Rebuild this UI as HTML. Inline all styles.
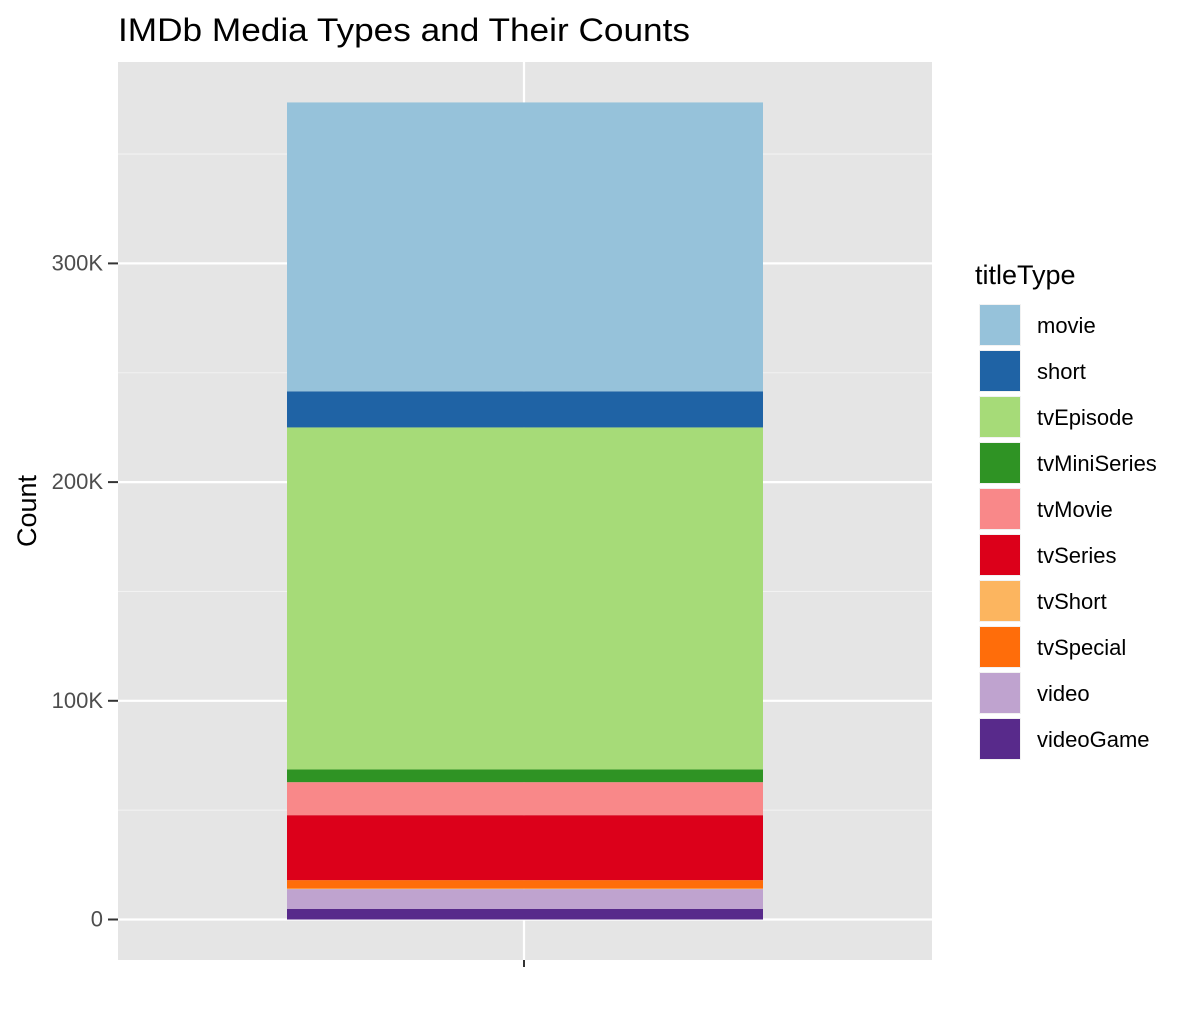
<!DOCTYPE html>
<html><head><meta charset="utf-8"><style>
body{margin:0;background:#fff;}
svg{display:block;font-family:"Liberation Sans",Arial,sans-serif;}
</style></head><body>
<svg id="c" width="1194" height="1010"></svg>
<script>
const categories=["videoGame","video","tvShort","tvSpecial","tvSeries","tvMovie","tvMiniSeries","tvEpisode","short","movie"];
const values=[4.8,9.1,0.3,3.8,29.7,15.1,5.8,156.4,16.5,132.1];
const colors={movie:"#96c2da",short:"#1f63a5",tvEpisode:"#a6db78",tvMiniSeries:"#2f9324",tvMovie:"#f98889",tvSeries:"#dc001a",tvShort:"#fcb55f",tvSpecial:"#ff6d0a",video:"#bfa3cf",videoGame:"#582a8b"};
const legendOrder=["movie","short","tvEpisode","tvMiniSeries","tvMovie","tvSeries","tvShort","tvSpecial","video","videoGame"];
const majorTicks=[0,100,200,300];
const tickLabels=["0","100K","200K","300K"];
const minorTicks=[50,150,250,350];
const NS="http://www.w3.org/2000/svg";
const svg=document.getElementById('c');
function y(v){return 919.5-v*2.187;}
function mk(t,a,p){const e=document.createElementNS(NS,t);for(const k in a)e.setAttribute(k,a[k]);(p||svg).appendChild(e);return e;}
const panel=mk('rect',{x:118,y:62,width:814,height:898,fill:'#e5e5e5'});


minorTicks.forEach(v=>{const l=mk('line',{x1:118,x2:932,y1:y(v),y2:y(v),stroke:'#f2f2f2','stroke-width':1.1});

});
majorTicks.forEach((v,i)=>{const l=mk('line',{x1:118,x2:932,y1:y(v),y2:y(v),stroke:'#fff','stroke-width':2.2});


const tk=mk('line',{x1:108,x2:118,y1:y(v),y2:y(v),stroke:'#333','stroke-width':2});


const t=mk('text',{x:103,y:y(v)+7,'text-anchor':'end','font-size':22,fill:'#4d4d4d'});t.textContent=tickLabels[i];

});
const vg=mk('line',{x1:524,x2:524,y1:62,y2:960,stroke:'#fff','stroke-width':2.2});


let cum=0;
categories.forEach((c,i)=>{const r=mk('rect',{x:287,width:476,y:y(cum+values[i]),height:values[i]*2.187,fill:colors[c]});cum+=values[i];

});
const xt=mk('line',{x1:524,x2:524,y1:960,y2:967,stroke:'#333','stroke-width':2});


const title=mk('text',{x:118,y:41,'font-size':32,fill:'#000',textLength:572,lengthAdjust:'spacingAndGlyphs'});title.textContent='IMDb Media Types and Their Counts';


const yt=mk('text',{x:0,y:0,'font-size':27,fill:'#000','text-anchor':'middle',transform:'translate(36,511) rotate(-90)'});yt.textContent='Count';


const lt=mk('text',{x:975,y:284,'font-size':27,fill:'#000'});lt.textContent='titleType';


legendOrder.forEach((c,i)=>{const g=mk('g',{});


mk('rect',{x:979,y:304+i*46,width:42,height:42,fill:'#f2f2f2'},g);
mk('rect',{x:980,y:305+i*46,width:40,height:40,fill:colors[c]},g);
const t=mk('text',{x:1037,y:333+i*46,'font-size':22,fill:'#000'},g);t.textContent=c;});
</script>
</body></html>
